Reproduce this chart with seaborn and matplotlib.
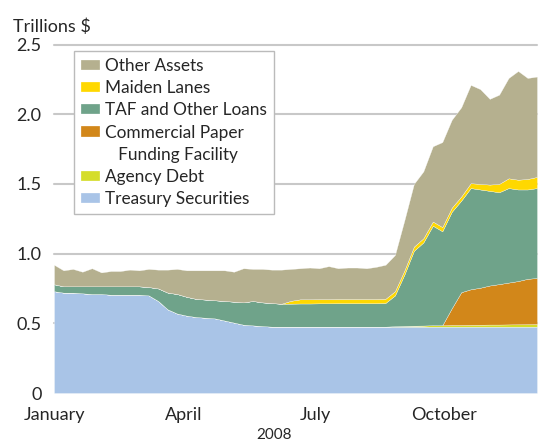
import matplotlib
matplotlib.use("Agg")
import matplotlib.pyplot as plt
from matplotlib.patches import Patch
import numpy as np
import pandas as pd
import seaborn as sns

# weekly readings, Jan - Dec 2008 (trillions of dollars)
week = np.arange(52)

treasury = [0.73, 0.72, 0.72, 0.715, 0.71, 0.71, 0.705, 0.705, 0.705, 0.705,
            0.70, 0.66, 0.60, 0.57, 0.555, 0.545, 0.54, 0.535, 0.52, 0.505,
            0.49, 0.485, 0.48] + [0.476] * 29

agency_debt = [0.0] * 36 + [0.003, 0.005, 0.007, 0.008, 0.01, 0.01, 0.012, 0.012,
                            0.013, 0.014, 0.015, 0.015, 0.016, 0.017, 0.018, 0.019]

cpff = [0.0] * 42 + [0.12, 0.235, 0.255, 0.265, 0.28, 0.29, 0.30, 0.31, 0.325, 0.33]

taf_loans = [0.05, 0.045, 0.045, 0.05, 0.055, 0.055, 0.06, 0.06, 0.06, 0.06,
             0.06, 0.09, 0.12, 0.14, 0.135, 0.13, 0.13, 0.13, 0.14, 0.15,
             0.16, 0.175, 0.17, 0.169, 0.164, 0.165, 0.166, 0.166, 0.167, 0.167,
             0.168, 0.168, 0.168, 0.168, 0.168, 0.17, 0.221, 0.369, 0.537, 0.596,
             0.714, 0.674, 0.692, 0.657, 0.726, 0.705, 0.679, 0.659, 0.678, 0.657,
             0.641, 0.645]

maiden_lanes = [0.0] * 25 + [0.02] + [0.03] * 18 + [0.035, 0.04, 0.045, 0.06,
                                                    0.07, 0.07, 0.075, 0.08]

other_assets = [0.14, 0.115, 0.125, 0.105, 0.13, 0.10, 0.11, 0.11, 0.12, 0.115,
                0.13, 0.135, 0.165, 0.18, 0.19, 0.205, 0.21, 0.215, 0.22, 0.215,
                0.245, 0.23, 0.24, 0.24, 0.245, 0.229, 0.223, 0.228, 0.222, 0.237,
                0.221, 0.226, 0.226, 0.221, 0.231, 0.244, 0.26, 0.36, 0.45, 0.48,
                0.54, 0.61, 0.63, 0.64, 0.705, 0.68, 0.615, 0.64, 0.72, 0.78,
                0.725, 0.72]

series_names = ["Treasury Securities", "Agency Debt", "Commercial Paper",
                "TAF and Other Loans", "Maiden Lanes", "Other Assets"]
colors = ["#A9C4E7", "#D5DD2A", "#D2871A", "#6FA38A", "#FFD800", "#B5B08F"]

month_ticks = [0, 13.7, 27.6, 41.2]
month_labels = ["January", "April", "July", "October"]
y_ticks = [0, 0.5, 1.0, 1.5, 2.0, 2.5]
y_labels = ["0", "0.5", "1.0", "1.5", "2.0", "2.5"]

df = pd.DataFrame({
    series_names[0]: treasury,
    series_names[1]: agency_debt,
    series_names[2]: cpff,
    series_names[3]: taf_loans,
    series_names[4]: maiden_lanes,
    series_names[5]: other_assets,
}, index=week)

sns.set_style("white")
plt.rcParams["font.family"] = ["Lato", "DejaVu Sans"]

fig = plt.figure(figsize=(5.51, 4.43), dpi=100)
ax = fig.add_axes([54 / 551, 1 - 393 / 443, 483 / 551, 348.5 / 443])

for yv in y_ticks[1:]:
    ax.axhline(yv, color="#C8C8C8", lw=1.5, zorder=0, clip_on=False)

polys = ax.stackplot(df.index, [df[c] for c in series_names],
                     colors=colors, labels=series_names, zorder=2,
                     edgecolor="white", linewidth=0.2)

ax.set_xlim(0, 51)
ax.set_ylim(0, 2.5)
ax.set_xticks(month_ticks)
ax.set_xticklabels(month_labels, fontsize=13)
ax.set_yticks(y_ticks)
ax.set_yticklabels(y_labels, fontsize=13)
ax.tick_params(axis="y", length=0, pad=9)
ax.tick_params(axis="x", length=4, width=1, color="#999999", pad=6, direction="out")
sns.despine(ax=ax, left=True, bottom=True)
ax.set_facecolor("none")

# legend, top layer first; second line of the CPFF label has no swatch
handles, labels = ax.get_legend_handles_labels()
handles, labels = handles[::-1], labels[::-1]
pos = labels.index("Commercial Paper") + 1
handles.insert(pos, Patch(facecolor="none", edgecolor="none"))
labels.insert(pos, "   Funding Facility")

leg = ax.legend(handles, labels, loc="upper left",
                bbox_to_anchor=(0.041, 0.981), borderaxespad=0,
                fontsize=12.4, frameon=True, fancybox=False,
                edgecolor="#BBBBBB", framealpha=1, handlelength=1.1,
                handleheight=0.52, handletextpad=0.3, labelspacing=0.36,
                borderpad=0.4)
leg.get_frame().set_linewidth(1.0)

fig.text(13 / 551, 1 - 32 / 443, "Trillions $", fontsize=13, ha="left", va="baseline")
fig.text(274 / 551, 1 - 439 / 443, "2008", fontsize=11, ha="center", va="baseline")

fig.savefig("out.png", dpi=100)
